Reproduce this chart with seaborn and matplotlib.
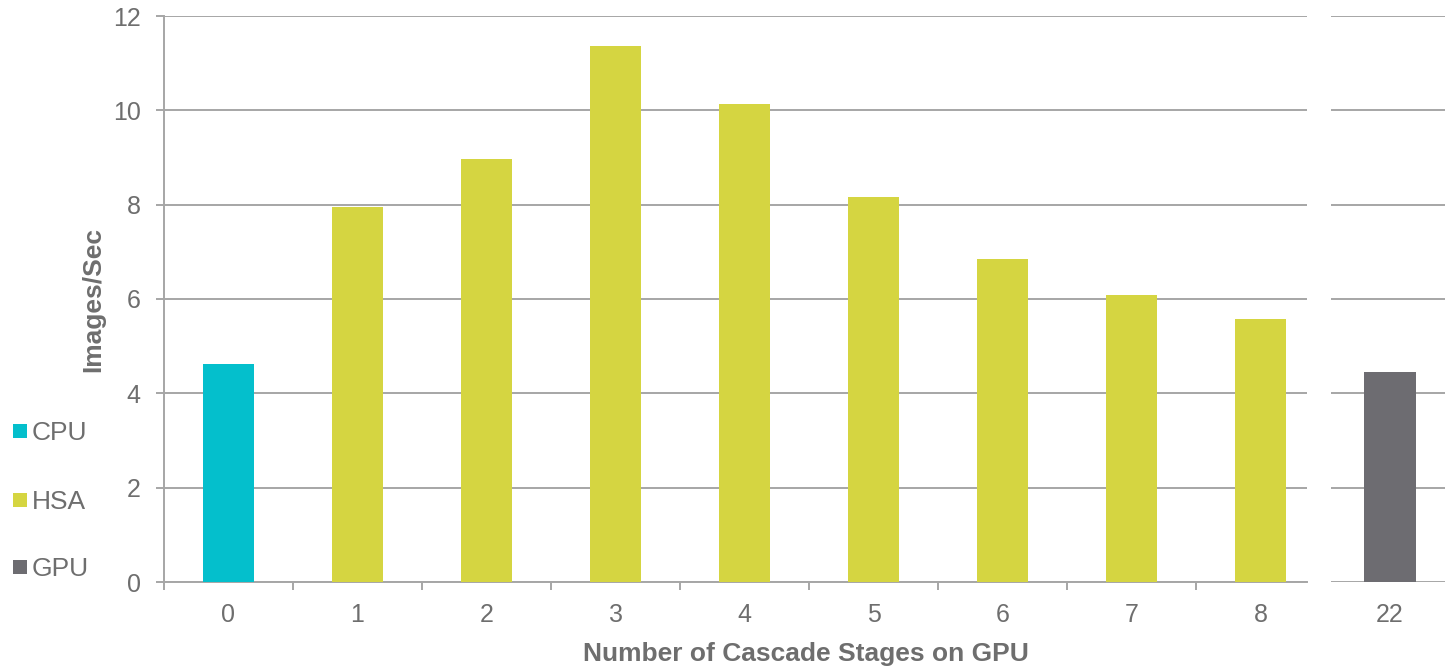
import matplotlib
matplotlib.use("Agg")
import matplotlib.pyplot as plt
import seaborn as sns
import pandas as pd
from matplotlib.patches import Rectangle

# Throughput by number of cascade stages offloaded to the GPU
stages = ["0", "1", "2", "3", "4", "5", "6", "7", "8"]
series = ["CPU", "HSA", "HSA", "HSA", "HSA", "HSA", "HSA", "HSA", "HSA"]
images_per_sec = [4.62, 7.95, 8.97, 11.36, 10.13, 8.16, 6.85, 6.08, 5.58]

gpu_stage = ["22"]
gpu_series = ["GPU"]
gpu_images_per_sec = [4.45]

legend_labels = ["CPU", "HSA", "GPU"]
palette = {"CPU": "#04BFCC", "HSA": "#D5D541", "GPU": "#6D6C71"}
y_ticks = [0, 2, 4, 6, 8, 10, 12]

text_color = "#6E6E6E"
grid_color = "#A6A6A6"

sns.set_theme(style="white")
plt.rcParams["font.family"] = ["Liberation Sans", "DejaVu Sans"]

W, H = 1445, 669
fig = plt.figure(figsize=(W / 100, H / 100), dpi=100)
fig.patch.set_facecolor("white")

# pixel layout helpers
def fx(px):
    return px / W

def fy(py):
    return 1 - py / H

y_bottom, y_top = 582, 16
cat_w = 129.0            # pixels per category
x_left = 164
x_right = 1307
ax = fig.add_axes([fx(x_left), fy(y_bottom), (x_right - x_left) / W, (y_bottom - y_top) / H])
g_left, g_right, g_center = 1331, 1445, 1390
ax2 = fig.add_axes([fx(g_left), fy(y_bottom), (g_right - g_left) / W, (y_bottom - y_top) / H])

main_df = pd.DataFrame({"stage": stages, "series": series, "value": images_per_sec})
gpu_df = pd.DataFrame({"stage": gpu_stage, "series": gpu_series, "value": gpu_images_per_sec})

bar_w = 0.40
sns.barplot(data=main_df, x="stage", y="value", hue="series", palette=palette,
            dodge=False, width=bar_w, saturation=1, legend=False, linewidth=0,
            ax=ax, zorder=3)
sns.barplot(data=gpu_df, x="stage", y="value", hue="series", palette=palette,
            dodge=False, width=bar_w, saturation=1, legend=False, linewidth=0,
            ax=ax2, zorder=3)

for a in (ax, ax2):
    a.set_ylim(0, 12)
    a.set_yticks(y_ticks)
    a.yaxis.grid(True, color=grid_color, linewidth=1.4, zorder=0)
    a.set_axisbelow(True)
    a.set_xlabel("")
    a.set_ylabel("")
    a.set_facecolor("white")
    for s in a.spines.values():
        s.set_visible(False)
    a.tick_params(axis="x", labelsize=18, labelcolor=text_color)

ax.set_xlim(-0.5, -0.5 + (x_right - x_left) / cat_w)
ax2.set_xlim(-(g_center - g_left) / cat_w, (g_right - g_center) / cat_w)

# main axes: left and bottom axis lines with outward ticks
ax.spines["left"].set_visible(True)
ax.spines["bottom"].set_visible(True)
for side in ("left", "bottom"):
    ax.spines[side].set_color(grid_color)
    ax.spines[side].set_linewidth(1.4)
ax.set_yticklabels([str(t) for t in y_ticks])
ax.tick_params(axis="y", left=True, length=5.8, width=1.4, color=grid_color,
               labelsize=18, labelcolor=text_color, pad=11)
ax.set_xticks(range(len(stages)))
ax.set_xticks([i - 0.5 for i in range(len(stages))], minor=True)
ax.tick_params(axis="x", which="major", bottom=False, length=0, pad=15)
ax.tick_params(axis="x", which="minor", bottom=True, length=5.8, width=1.4,
               color=grid_color, direction="out")

ax2.tick_params(axis="y", left=False, labelleft=False)
ax2.tick_params(axis="x", bottom=False, length=0, pad=15)

fig.text(fx(93), fy(299), "Images/Sec", rotation=90, ha="center", va="center",
         fontsize=19, fontweight="bold", color=text_color)
fig.text(fx(806), fy(661), "Number of Cascade Stages on GPU",
         ha="center", va="baseline", fontsize=19, fontweight="bold", color=text_color)

# legend column on the left
legend_rows = [431, 499.5, 567]
for label, yc in zip(legend_labels, legend_rows):
    fig.patches.append(Rectangle((fx(13), fy(yc + 7)), 14 / W, 14 / H,
                                 transform=fig.transFigure, facecolor=palette[label],
                                 edgecolor="none"))
    fig.text(fx(32), fy(yc), label, ha="left", va="center_baseline",
             fontsize=19, color=text_color)

fig.savefig("out.png", dpi=100, facecolor="white")
